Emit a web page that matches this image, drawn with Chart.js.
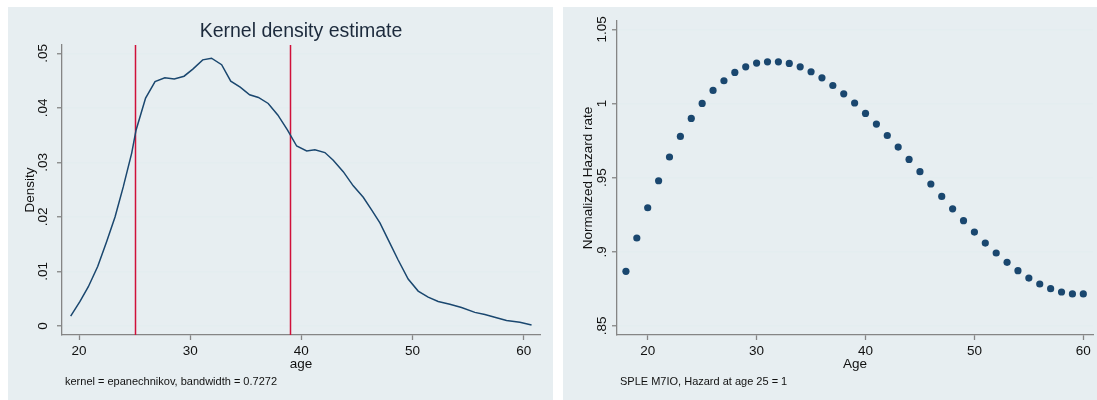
<!DOCTYPE html>
<html>
<head>
<meta charset="utf-8">
<script src="https://cdn.jsdelivr.net/npm/chart.js@4.4.1/dist/chart.umd.min.js"></script>
<style>
  html, body { margin: 0; padding: 0; background: #ffffff; }
  body { width: 1097px; height: 400px; position: relative; overflow: hidden; }
  .panel { position: absolute; background: #E7EEF1; }
  #p1 { left: 8px; top: 7px; width: 545px; height: 393px; }
  #p2 { left: 563px; top: 7px; width: 534px; height: 393px; }
  canvas { display: block; }
</style>
</head>
<body>
<div class="panel" id="p1"><canvas id="kde" width="545" height="393"></canvas></div>
<div class="panel" id="p2"><canvas id="hazard" width="534" height="393"></canvas></div>
<script>
// Kernel density of age
const kdeAge = [19.25, 20.09, 20.84, 21.68, 22.49, 23.24, 23.98, 24.74, 25.13, 25.99,
  26.84, 27.72, 28.57, 29.45, 30.24, 31.13, 31.92, 32.83, 33.65, 34.50,
  35.35, 36.14, 37.02, 37.88, 38.76, 39.58, 40.48, 41.22, 42.12, 42.87,
  43.77, 44.67, 45.57, 46.32, 47.07, 47.82, 48.71, 49.61, 50.51, 51.41,
  52.31, 53.36, 54.41, 55.61, 56.51, 57.56, 58.46, 59.66, 60.71];
const kdeDensity = [0.0018, 0.0045, 0.0072, 0.0109, 0.0155, 0.0200, 0.0255, 0.0317, 0.0359, 0.0418,
  0.0448, 0.0455, 0.0453, 0.0458, 0.0471, 0.0488, 0.0491, 0.0479, 0.0449, 0.0438,
  0.0424, 0.0419, 0.0408, 0.0387, 0.0359, 0.0330, 0.0321, 0.0323, 0.0318, 0.0304,
  0.0283, 0.0257, 0.0236, 0.0213, 0.0189, 0.0158, 0.0121, 0.0086, 0.0064, 0.0053,
  0.0045, 0.0040, 0.0034, 0.0025, 0.0021, 0.0015, 0.0010, 0.0007, 0.0002];
const cutoffAges = [25, 39];
const densityTicks = [0, 0.01, 0.02, 0.03, 0.04, 0.05];
const densityTickLabels = ['0', '.01', '.02', '.03', '.04', '.05'];

// Normalized hazard rate by age (age 25 = 1)
const hazardAge = [18, 19, 20, 21, 22, 23, 24, 25, 26, 27, 28, 29, 30, 31, 32, 33, 34, 35, 36, 37, 38,
  39, 40, 41, 42, 43, 44, 45, 46, 47, 48, 49, 50, 51, 52, 53, 54, 55, 56, 57, 58, 59, 60];
const hazardRate = [0.8868, 0.9093, 0.9297, 0.9479, 0.9639, 0.9778, 0.9899, 1.0000, 1.0088, 1.0153,
  1.0209, 1.0247, 1.0272, 1.0281, 1.0281, 1.0270, 1.0247, 1.0214, 1.0173, 1.0121,
  1.0065, 1.0003, 0.9933, 0.9861, 0.9784, 0.9706, 0.9623, 0.9540, 0.9457, 0.9373,
  0.9290, 0.9210, 0.9133, 0.9059, 0.8992, 0.8929, 0.8873, 0.8823, 0.8783, 0.8751,
  0.8729, 0.8716, 0.8716];
const hazardTicks = [0.85, 0.9, 0.95, 1, 1.05];
const hazardTickLabels = ['.85', '.9', '.95', '1', '1.05'];

const ageTicks = [20, 30, 40, 50, 60];

const FONT = '"Liberation Sans", Arial, Helvetica, sans-serif';
const NAVY = '#1A476F';
const AXIS = '#858585';
const GRID = '#E4EDF0';
const TEXT = '#111111';
const TITLE = '#1C2A3C';
const LABEL_SIZE = 13.5;

Chart.defaults.font.family = FONT;
Chart.defaults.font.size = LABEL_SIZE;
Chart.defaults.color = TEXT;

function xAxis(min, max, titleText) {
  return {
    type: 'linear', position: 'bottom', min, max,
    afterBuildTicks: s => { s.ticks = ageTicks.map(v => ({ value: v })); },
    afterFit: s => { s.height = 44; },
    grid: { drawOnChartArea: false, drawTicks: true, tickLength: 5, tickColor: AXIS, tickWidth: 1.3 },
    border: { color: AXIS, width: 1.3 },
    ticks: { color: TEXT, padding: 3, maxRotation: 0, autoSkip: false, font: { size: LABEL_SIZE } },
    title: { display: true, text: titleText, color: TEXT, font: { size: LABEL_SIZE }, padding: { top: 0, bottom: 7 } }
  };
}

function yAxis(min, max, values, titleText, titlePad) {
  return {
    type: 'linear', position: 'left', min, max,
    afterBuildTicks: s => { s.ticks = values.map(v => ({ value: v })); },
    afterFit: s => { s.width = 54; },
    grid: { color: GRID, lineWidth: 1.5, drawTicks: true, tickLength: 5, tickColor: AXIS, tickWidth: 1.3 },
    border: { color: AXIS, width: 1.3 },
    ticks: { display: false },
    title: { display: true, text: titleText, color: TEXT, font: { size: LABEL_SIZE }, padding: { top: titlePad, bottom: 0 } }
  };
}

// Rotated y tick labels, optional title, note and vertical reference lines
const panelText = {
  id: 'panelText',
  beforeDatasetsDraw(chart, args, opts) {
    if (!opts.refLines) return;
    const { ctx, chartArea } = chart;
    const x = chart.scales.x;
    ctx.save();
    ctx.strokeStyle = '#D0103A';
    ctx.lineWidth = 1.5;
    opts.refLines.forEach(v => {
      const px = Math.round(x.getPixelForValue(v)) + 0.5;
      ctx.beginPath();
      ctx.moveTo(px, chartArea.top);
      ctx.lineTo(px, chartArea.bottom);
      ctx.stroke();
    });
    ctx.restore();
  },
  afterDraw(chart, args, opts) {
    const { ctx, chartArea } = chart;
    const y = chart.scales.y;
    ctx.save();
    ctx.fillStyle = TEXT;
    ctx.font = LABEL_SIZE + 'px ' + FONT;
    ctx.textAlign = 'center';
    ctx.textBaseline = 'middle';
    opts.yValues.forEach((v, i) => {
      const py = y.getPixelForValue(v);
      ctx.save();
      ctx.translate(opts.yLabelX, py);
      ctx.rotate(-Math.PI / 2);
      ctx.fillText(opts.yLabels[i], 0, 0);
      ctx.restore();
    });
    if (opts.title) {
      ctx.fillStyle = TITLE;
      ctx.font = '19.5px ' + FONT;
      ctx.fillText(opts.title, (chartArea.left + chartArea.right) / 2, opts.titleY);
    }
    ctx.fillStyle = TEXT;
    ctx.font = '11px ' + FONT;
    ctx.textAlign = 'left';
    ctx.fillText(opts.note, chartArea.left + 3, opts.noteY);
    ctx.restore();
  }
};

const common = {
  responsive: false,
  animation: false,
  devicePixelRatio: 1,
  plugins: { legend: { display: false }, tooltip: { enabled: false } }
};

new Chart(document.getElementById('kde'), {
  type: 'line',
  data: {
    datasets: [{
      data: kdeAge.map((a, i) => ({ x: a, y: kdeDensity[i] })),
      borderColor: NAVY, borderWidth: 1.5, pointRadius: 0, tension: 0, fill: false
    }]
  },
  options: {
    ...common,
    layout: { padding: { top: 38, right: 13, bottom: 21, left: 0 } },
    scales: {
      x: xAxis(18.47, 61.47, 'age'),
      y: yAxis(-0.00165, 0.05152, densityTicks, 'Density', 14)
    },
    plugins: {
      ...common.plugins,
      panelText: {
        yValues: densityTicks, yLabels: densityTickLabels, yLabelX: 35,
        title: 'Kernel density estimate', titleY: 25,
        note: 'kernel = epanechnikov, bandwidth = 0.7272', noteY: 375,
        refLines: cutoffAges
      }
    }
  },
  plugins: [panelText]
});

new Chart(document.getElementById('hazard'), {
  type: 'scatter',
  data: {
    datasets: [{
      data: hazardAge.map((a, i) => ({ x: a, y: hazardRate[i] })),
      backgroundColor: NAVY, borderWidth: 0, pointRadius: 3.6
    }]
  },
  options: {
    ...common,
    layout: { padding: { top: 14, right: 2, bottom: 21, left: 0 } },
    scales: {
      x: xAxis(17.18, 60.89, 'Age'),
      y: yAxis(0.8439, 1.0556, hazardTicks, 'Normalized Hazard rate', 17)
    },
    plugins: {
      ...common.plugins,
      panelText: {
        yValues: hazardTicks, yLabels: hazardTickLabels, yLabelX: 39,
        note: 'SPLE M7IO, Hazard at age 25 = 1', noteY: 375
      }
    }
  },
  plugins: [panelText]
});
</script>
</body>
</html>
